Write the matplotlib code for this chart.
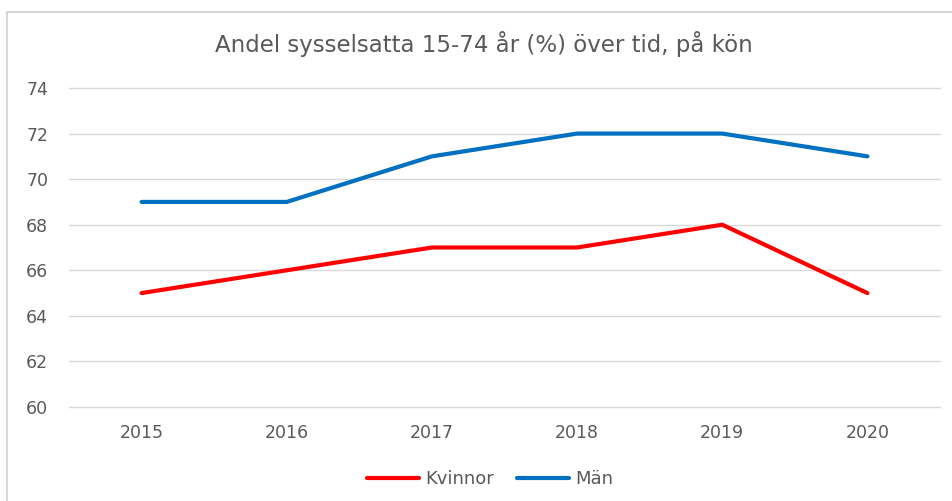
import matplotlib.pyplot as plt
from matplotlib.patches import Rectangle

years = ['2015', '2016', '2017', '2018', '2019', '2020']
kvinnor = [65, 66, 67, 67, 68, 65]
man = [69, 69, 71, 72, 72, 71]

plt.rcParams['font.family'] = ['DejaVu Sans']
grey = '#595959'

fig = plt.figure(figsize=(9.53, 5.01), dpi=100)
fig.patches.append(Rectangle((7 / 953, -0.05), 1.0, 1 - 12 / 501 + 0.05,
                             transform=fig.transFigure, fill=False,
                             edgecolor='#D0D0D0', linewidth=1.2))

ax = fig.add_axes([69 / 953, 1 - 407 / 501, (940 - 69) / 953, (407 - 88) / 501])
x = range(len(years))
ax.plot(x, kvinnor, color='#FF0000', linewidth=3, solid_capstyle='round', label='Kvinnor')
ax.plot(x, man, color='#0070C0', linewidth=3, solid_capstyle='round', label='Män')

ax.set_xlim(-0.5, len(years) - 0.5)
ax.set_ylim(60, 74)
ax.set_yticks(range(60, 75, 2))
ax.set_xticks(list(x))
ax.set_xticklabels(years)
ax.grid(axis='y', color='#D9D9D9', linewidth=1)
for gl in ax.get_ygridlines():
    gl.set_clip_on(False)
ax.set_axisbelow(True)
for s in ax.spines.values():
    s.set_visible(False)
ax.tick_params(length=0, labelsize=12.5, labelcolor=grey)
ax.tick_params(axis='y', pad=15)
ax.tick_params(axis='x', pad=12)

fig.text(484 / 953, 1 - 44 / 501, 'Andel sysselsatta 15-74 år (%) över tid, på kön',
         ha='center', va='center', fontsize=16.5, color=grey)

fig.legend(loc='center', bbox_to_anchor=(490 / 953, 1 - 479 / 501), ncol=2,
           frameon=False, fontsize=13, labelcolor=grey, handlelength=2.9,
           handletextpad=0.3, columnspacing=1.3)

fig.savefig('out.png', dpi=100)
